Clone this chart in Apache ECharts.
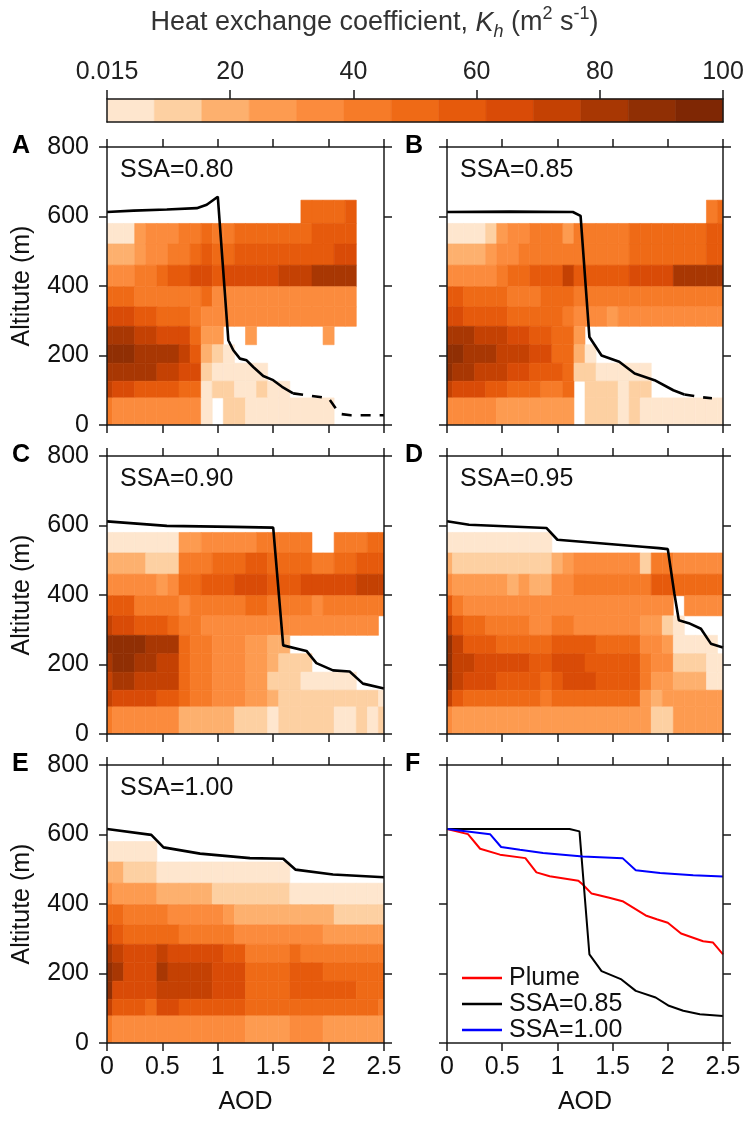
<!DOCTYPE html>
<html><head><meta charset="utf-8">
<script src="https://cdn.jsdelivr.net/npm/echarts@6/dist/echarts.min.js"></script>
<style>html,body{margin:0;padding:0;background:#fff}#c{width:749px;height:1126px}</style>
</head><body><div id="c"></div>
<script>
// ---- data ----
const aodCenters = [0,0.1,0.2,0.3,0.4,0.5,0.6,0.7,0.8,0.9,1.0,1.1,1.2,1.3,1.4,1.5,1.6,1.7,1.8,1.9,2.0,2.1,2.2,2.3,2.4,2.5];
const altEdges = [0,78,126,178,231,284,340,398,460,521,580,647];
const colorLevels = ['#fee6ce','#fdd0a2','#fdb06e','#fd9b50','#fb8b3d','#f67b28','#ef6a16','#e65a0c','#d94b07','#c44103','#a83703','#902f04','#7f2704'];
const cbTicks = [0,20,40,60,80,100];
const cbTickLabels = ['0.015','20','40','60','80','100'];
const panelLabels = ['A','B','C','D','E','F'];
const ssaLabels = ['SSA=0.80','SSA=0.85','SSA=0.90','SSA=0.95','SSA=1.00'];
// Kh colour level per cell (0..c), rows from top (580-647 m) to bottom (0-78 m); '.' = no data
const heatA = [
 "..................66667...",
 "00034445565566666667777...",
 "22234455676677777777788...",
 "4445567788788888999aaaa...",
 "66655555564444444444444...",
 "88877666544444444444444...",
 "aaa99888633..3......3.....",
 "bbbaaaa97210..............",
 "aaaaa9988100000...........",
 "98877776601100100.........",
 "5444444440.1100000000....."];
const heatB = [
 "........................56",
 "00001344555355555666666677",
 "22223445555555555666666677",
 "444445667779777778888aaaaa",
 "77666655566655555555555555",
 "88777766666544434444444444",
 "aaa9998877663.............",
 "bbaaa999886620............",
 "baa9998877761100000.......",
 "988877666556.111011.......",
 "444443333333.1110100000000"];
const heatC = [
 "..........................",
 "0000000334444455555..55566",
 "22221115556667766665566777",
 "44444346677788877788888999",
 "77755554555556655554555555",
 "9887776554444444444444444.",
 "bbbbaaa6554443322.........",
 "abbaa99655444332111.......",
 "9aa99996554443311100000...",
 "98888776554443321111111110",
 "54444442222211101111100101"];
const heatD = [
 "..........................",
 "0000000000................",
 "21111111112344444415544444",
 "43333323224455555557766666",
 "754444444444444444444.4444",
 "9766555544554444443310....",
 "b977766666777766664430000.",
 "b9988888778887777754411100",
 "b9888777767888777753322200",
 "97666666656666666632333333",
 "43333333333333333331133333"];
const heatE = [
 "..........................",
 "00000.....................",
 "22111000000000000.........",
 "43333222221111111000000000",
 "66555544444322222222211111",
 "87666665555544444444333333",
 "a9888988888775555655555555",
 "ba888a99998886666777666666",
 "b8888999998886666777777666",
 "97776887777776666666666665",
 "54444444444443333444333333"];
// boundary-layer top lines [AOD, altitude m]
const lineA = [[0,613],[0.24,617],[0.54,620],[0.81,624],[0.9,634],[1.0,657],[1.095,244],[1.14,215],[1.2,191],[1.26,186],[1.32,167],[1.41,141],[1.5,129],[1.58,110],[1.68,91]];
const lineAdash = [[1.68,91],[2.0,77],[2.1,32],[2.2,28],[2.5,28]];
const lineB = [[0,613],[0.57,614],[1.14,613],[1.21,602],[1.29,253],[1.4,200],[1.56,182],[1.7,148],[1.88,129],[2.05,100],[2.15,88]];
const lineBdash = [[2.15,88],[2.3,80],[2.4,77]];
const lineC = [[0,612],[0.54,599],[1.14,596],[1.5,594],[1.59,255],[1.8,239],[1.89,204],[2.04,183],[2.19,180],[2.31,145],[2.5,131]];
const lineD = [[0,612],[0.2,602],[0.9,593],[1.0,559],[1.77,539],[1.92,535],[2.0,532],[2.06,403],[2.1,327],[2.19,319],[2.3,303],[2.39,260],[2.5,249]];
const lineE = [[0,616],[0.4,599],[0.51,563],[0.84,545],[1.29,532],[1.59,530],[1.7,499],[2.04,485],[2.5,477]];
const plumeF = [[0,616],[0.19,601],[0.3,559],[0.48,542],[0.71,532],[0.81,491],[0.93,480],[1.19,467],[1.23,456],[1.31,430],[1.47,418],[1.59,408],[1.8,367],[1.9,356],[2.0,346],[2.12,315],[2.32,293],[2.41,289],[2.5,255]];
const ssa085F = [[0,616],[1.11,616],[1.2,609],[1.29,255],[1.4,207],[1.58,183],[1.71,150],[1.89,131],[2.01,107],[2.14,93],[2.29,83],[2.5,78]];
const ssa100F = [[0,616],[0.39,601],[0.49,564],[0.66,556],[0.87,547],[1.23,537],[1.59,532],[1.71,497],[1.93,489],[2.23,483],[2.5,479]];

// ---- build ----
const FONT = 'Liberation Sans';
const FS = 25;
const TXT = '#111';
const grids = [
  {left:107, top:147, width:277, height:278},
  {left:447, top:147, width:276, height:278},
  {left:107, top:456, width:277, height:278},
  {left:447, top:456, width:276, height:278},
  {left:107, top:765, width:277, height:278},
  {left:447, top:765, width:276, height:278},
  {left:107, top:99, width:616, height:23}
];
const axLine = {show:true, onZero:false, lineStyle:{color:'#1a1a1a', width:1.5}};
const axTick = {show:true, inside:false, length:8, lineStyle:{color:'#1a1a1a', width:1.5}};
const xAxes = [], yAxes = [];
for (let p = 0; p < 6; p++) {
  const bottomRow = p >= 4, leftCol = p % 2 === 0;
  xAxes.push({gridIndex:p, type:'value', min:0, max:2.5, interval:0.5, position:'bottom', z:10,
    axisLine:axLine, axisTick:axTick, splitLine:{show:false},
    axisLabel:{show:bottomRow, fontSize:FS, fontFamily:FONT, color:TXT, margin:12},
    name: bottomRow ? 'AOD' : '', nameLocation:'middle', nameGap:47,
    nameTextStyle:{fontSize:FS, fontFamily:FONT, color:TXT}});
  xAxes.push({gridIndex:p, type:'value', min:0, max:2.5, interval:0.5, position:'top', z:10,
    axisLine:axLine, axisTick:axTick, splitLine:{show:false}, axisLabel:{show:false}});
  yAxes.push({gridIndex:p, type:'value', min:0, max:800, interval:200, position:'left', z:10,
    axisLine:axLine, axisTick:axTick, splitLine:{show:false},
    axisLabel:{show:leftCol, fontSize:FS, fontFamily:FONT, color:TXT, margin:18},
    name: leftCol ? 'Altitute (m)' : '', nameLocation:'middle', nameGap:72,
    nameTextStyle:{fontSize:FS, fontFamily:FONT, color:TXT}});
  yAxes.push({gridIndex:p, type:'value', min:0, max:800, interval:200, position:'right', z:10,
    axisLine:axLine, axisTick:axTick, splitLine:{show:false}, axisLabel:{show:false}});
}
// colourbar axes
xAxes.push({gridIndex:6, type:'value', min:0, max:100, interval:20, position:'top', z:10,
  axisLine:axLine, axisTick:{show:true, inside:false, length:9, lineStyle:{color:'#1a1a1a', width:1.5}},
  splitLine:{show:false},
  axisLabel:{fontSize:FS, fontFamily:FONT, color:'#222', margin:14,
    formatter:v => { const k = cbTicks.indexOf(v); return k >= 0 ? cbTickLabels[k] : ''; }}});
xAxes.push({gridIndex:6, type:'value', min:0, max:100, position:'bottom', z:10,
  axisLine:axLine, axisTick:{show:false}, splitLine:{show:false}, axisLabel:{show:false}});
yAxes.push({gridIndex:6, type:'value', min:0, max:1, position:'left', z:10,
  axisLine:axLine, axisTick:{show:false}, splitLine:{show:false}, axisLabel:{show:false}});
yAxes.push({gridIndex:6, type:'value', min:0, max:1, position:'right', z:10,
  axisLine:axLine, axisTick:{show:false}, splitLine:{show:false}, axisLabel:{show:false}});

function cellsFrom(rows) {
  const out = [];
  const n = aodCenters.length, nr = altEdges.length - 1;
  rows.forEach((rowStr, ri) => {
    const r = nr - 1 - ri;
    const s = rowStr.padEnd(n, '.').slice(0, n);
    for (let i = 0; i < n; i++) {
      const ch = s[i];
      if (ch === '.') continue;
      const x0 = i === 0 ? aodCenters[0] : (aodCenters[i-1] + aodCenters[i]) / 2;
      const x1 = i === n-1 ? aodCenters[n-1] : (aodCenters[i] + aodCenters[i+1]) / 2;
      out.push([x0, x1, altEdges[r], altEdges[r+1], parseInt(ch, 16)]);
    }
  });
  return out;
}
function renderCell(params, api) {
  const p0 = api.coord([api.value(0), api.value(3)]);
  const p1 = api.coord([api.value(1), api.value(2)]);
  const c = colorLevels[api.value(4)];
  return {type:'rect', shape:{x:p0[0], y:p0[1], width:p1[0]-p0[0], height:p1[1]-p0[1]},
    style:{fill:c, stroke:c, lineWidth:0.6}};
}
const series = [];
[heatA, heatB, heatC, heatD, heatE].forEach((h, p) => {
  series.push({type:'custom', name:'heat'+p, xAxisIndex:2*p, yAxisIndex:2*p, clip:true, z:1,
    renderItem:renderCell, encode:{x:[0,1], y:[2,3]}, data:cellsFrom(h)});
});
// colourbar cells
const cbData = colorLevels.map((c, i) => [i*100/colorLevels.length, (i+1)*100/colorLevels.length, 0, 1, i]);
series.push({type:'custom', name:'cb', xAxisIndex:12, yAxisIndex:12, z:1, renderItem:renderCell,
  encode:{x:[0,1], y:[2,3]}, data:cbData});

function pbl(name, data, p, opts) {
  series.push(Object.assign({type:'line', name:name, xAxisIndex:2*p, yAxisIndex:2*p, data:data,
    showSymbol:false, symbol:'none', z:5, lineStyle:{color:'#000', width:2.6}, itemStyle:{color:'#000'}}, opts||{}));
}
pbl('pA', lineA, 0);
pbl('pAd', lineAdash, 0, {lineStyle:{color:'#000', width:2.6, type:[10,9]}});
pbl('pB', lineB, 1);
pbl('pBd', lineBdash, 1, {lineStyle:{color:'#000', width:2.6, type:[10,9]}});
pbl('pC', lineC, 2);
pbl('pD', lineD, 3);
pbl('pE', lineE, 4);
pbl('Plume', plumeF, 5, {lineStyle:{color:'#ff0000', width:2}, itemStyle:{color:'#ff0000'}});
pbl('SSA=0.85', ssa085F, 5, {lineStyle:{color:'#000', width:2}, itemStyle:{color:'#000'}});
pbl('SSA=1.00', ssa100F, 5, {lineStyle:{color:'#0000ff', width:2}, itemStyle:{color:'#0000ff'}});

const titles = [];
grids.slice(0, 6).forEach((g, p) => {
  titles.push({text:panelLabels[p], left: p % 2 === 0 ? 12 : 405, top:g.top - 13, padding:0,
    textStyle:{fontSize:25, fontWeight:'bold', fontFamily:FONT, color:'#000'}});
  if (p < 5) titles.push({text:ssaLabels[p], left:g.left + 13, top:g.top + 11, padding:0,
    textStyle:{fontSize:FS, fontWeight:'normal', fontFamily:FONT, color:TXT}});
});
const tNorm = {fontSize:27, fontFamily:FONT, color:'#333', fontWeight:'normal', lineHeight:36};
titles.push({
  text:'{a|Heat exchange coefficient, }{k|K}{s|h}{a| (m}{p|2}{a| s}{p|-1}{a|)}',
  left:'center', top:5, padding:0,
  textStyle:{fontWeight:'normal', color:'#333', rich:{
    a:tNorm,
    k:Object.assign({}, tNorm, {fontStyle:'italic'}),
    s:{fontSize:18, fontFamily:FONT, color:'#333', fontWeight:'normal', fontStyle:'italic', lineHeight:18, verticalAlign:'bottom'},
    p:{fontSize:18, fontFamily:FONT, color:'#333', fontWeight:'normal', lineHeight:18, verticalAlign:'top'}
  }}
});

const chart = echarts.init(document.getElementById('c'), null, {renderer:'canvas'});
chart.setOption({
  animation:false,
  backgroundColor:'#fff',
  title:titles,
  grid:grids,
  xAxis:xAxes,
  yAxis:yAxes,
  legend:{data:['Plume','SSA=0.85','SSA=1.00'], orient:'vertical', left:462, top:965,
    icon:'rect', itemWidth:40, itemHeight:2.5, itemGap:0, padding:0,
    textStyle:{fontSize:FS, fontFamily:FONT, color:TXT, lineHeight:26, padding:[0,0,0,2]}},
  series:series
});
</script></body></html>
